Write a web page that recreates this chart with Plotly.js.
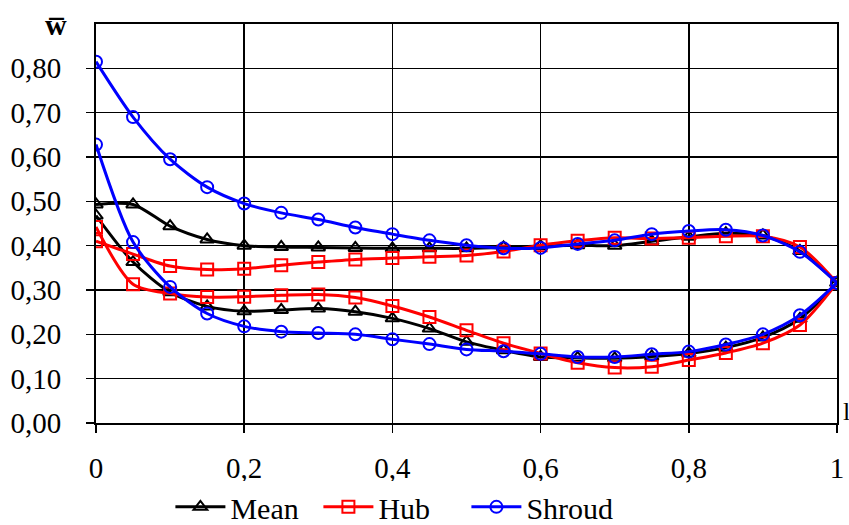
<!DOCTYPE html>
<html>
<head>
<meta charset="utf-8">
<script src="https://cdn.plot.ly/plotly-3.0.1.min.js"></script>
<style>html,body{margin:0;padding:0;background:#fff;}#chart{width:849px;height:525px;}</style>
</head>
<body>
<div id="chart"></div>
<script>
// Relative position along blade (l)
const xPos = [0,0.05,0.1,0.15,0.2,0.25,0.3,0.35,0.4,0.45,0.5,0.55,0.6,0.65,0.7,0.75,0.8,0.85,0.9,0.95,1];

// Mean
const meanUpper = [0.493,0.493,0.444,0.414,0.400,0.397,0.396,0.395,0.394,0.394,0.394,0.396,0.399,0.401,0.400,0.410,0.420,0.428,0.423,0.388,0.316];
const meanLower = [0.468,0.363,0.295,0.263,0.252,0.255,0.258,0.251,0.236,0.213,0.183,0.164,0.149,0.147,0.146,0.150,0.157,0.170,0.193,0.235,0.316];
// Hub
const hubUpper = [0.410,0.381,0.354,0.346,0.348,0.356,0.363,0.369,0.372,0.375,0.378,0.387,0.401,0.411,0.418,0.416,0.418,0.421,0.421,0.397,0.316];
const hubLower = [0.442,0.313,0.292,0.284,0.285,0.288,0.290,0.283,0.264,0.239,0.209,0.180,0.157,0.136,0.125,0.127,0.142,0.158,0.180,0.221,0.316];
// Shroud
const shroudUpper = [0.815,0.690,0.595,0.532,0.495,0.474,0.459,0.441,0.426,0.412,0.401,0.394,0.395,0.404,0.412,0.426,0.433,0.436,0.423,0.386,0.316];
const shroudLower = [0.628,0.408,0.307,0.247,0.218,0.206,0.203,0.200,0.189,0.178,0.166,0.162,0.156,0.149,0.149,0.155,0.161,0.177,0.200,0.243,0.316];

const seriesNames = ["Mean","Hub","Shroud"];
const xTickVals = [0,0.2,0.4,0.6,0.8,1];
const xTickText = ["0","0,2","0,4","0,6","0,8","1"];
const yTickVals = [0,0.1,0.2,0.3,0.4,0.5,0.6,0.7,0.8];
const yTickText = ["0,00","0,10","0,20","0,30","0,40","0,50","0,60","0,70","0,80"];

const styles = [
  {color:"#000000", symbol:"triangle-up-open"},
  {color:"#ff0000", symbol:"square-open"},
  {color:"#0000ff", symbol:"circle-open"}
];
const dataSets = [[meanUpper,meanLower],[hubUpper,hubLower],[shroudUpper,shroudLower]];

const traces = [];
dataSets.forEach((pair, i) => {
  pair.forEach((ys, j) => {
    traces.push({
      type: "scatter",
      mode: "lines+markers",
      x: xPos,
      y: ys,
      name: seriesNames[i],
      legendgroup: seriesNames[i],
      showlegend: j === 0,
      line: {color: styles[i].color, width: 3, shape: "spline", smoothing: 0.8},
      marker: {symbol: styles[i].symbol, size: 12, color: styles[i].color, line: {width: 2, color: styles[i].color}}
    });
  });
});

const serif = "Liberation Serif";
const layout = {
  width: 849, height: 525,
  margin: {l: 96, r: 12, t: 24, b: 102, autoexpand: false},
  paper_bgcolor: "#fff", plot_bgcolor: "#fff",
  font: {family: serif, size: 29, color: "#000"},
  showlegend: true,
  legend: {orientation: "h", x: 0.40, xanchor: "center", y: -0.145, yanchor: "top",
           font: {family: serif, size: 30, color: "#000"}, itemwidth: 50, tracegroupgap: 0,
           entrywidth: 83, entrywidthmode: "pixels"},
  xaxis: {
    range: [0, 1], tickvals: xTickVals, ticktext: xTickText,
    showgrid: true, gridcolor: "#000", gridwidth: 1.6,
    showline: true, linecolor: "#000", linewidth: 2, mirror: true,
    ticks: "outside", ticklen: 8, tickwidth: 1.6, tickcolor: "#000",
    zeroline: false, ticklabelstandoff: 10,
    tickfont: {family: serif, size: 29, color: "#000"}
  },
  yaxis: {
    range: [0, 0.9], tickvals: yTickVals, ticktext: yTickText,
    showgrid: true, gridcolor: "#000", gridwidth: 1.6,
    showline: true, linecolor: "#000", linewidth: 2, mirror: true,
    ticks: "outside", ticklen: 8, tickwidth: 1.6, tickcolor: "#000",
    zeroline: false, ticklabelstandoff: 19,
    tickfont: {family: serif, size: 29, color: "#000"}
  },
  annotations: [
    {xref: "paper", yref: "paper", x: -0.054, y: 1.0, xanchor: "center", yanchor: "middle",
     text: "<b>w\u0305</b>", showarrow: false, font: {family: serif, size: 30, color: "#000"}},
    {xref: "paper", yref: "paper", x: 1.005, y: 0.0, xanchor: "left", yanchor: "bottom", yshift: -5,
     text: "l", showarrow: false, font: {family: serif, size: 26, color: "#000"}}
  ]
};

Plotly.newPlot("chart", traces, layout, {displayModeBar: false, staticPlot: true});
</script>
</body>
</html>
